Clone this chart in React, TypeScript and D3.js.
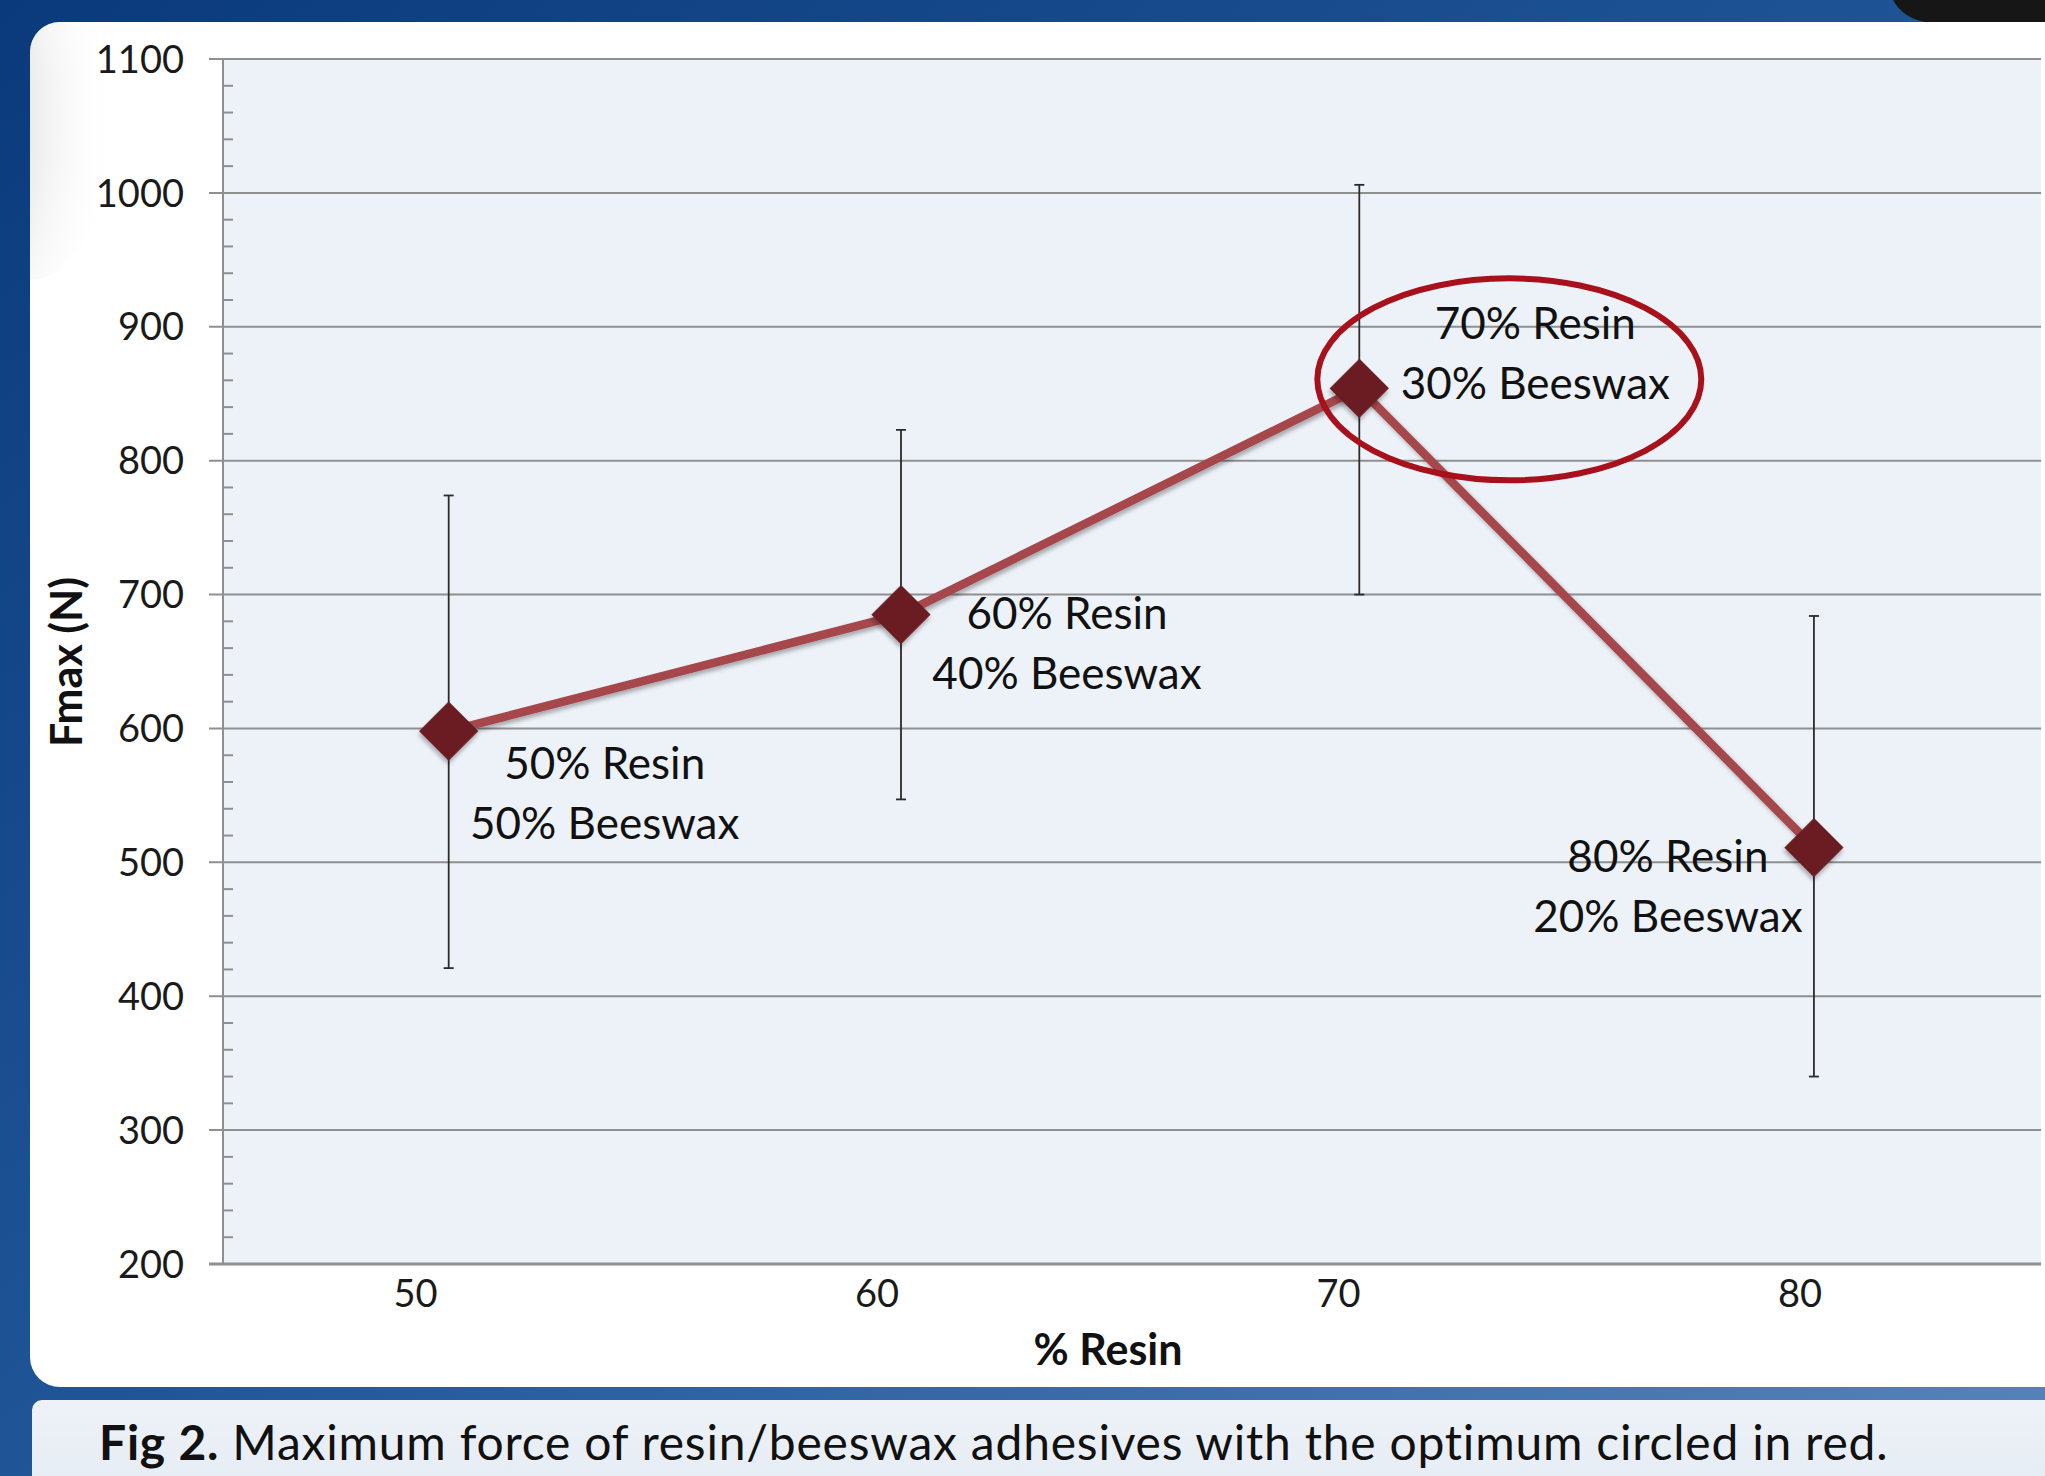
import * as d3 from "d3";
import React from "react";

// % resin of each blend (points sit a little right of the printed ticks)
const resinPercent = [50.72, 60.52, 70.45, 80.3];
// mean maximum force (N) and the ends of the error bars
const fmaxMean = [598, 685, 854, 511];
const fmaxHigh = [774, 823, 1006, 684];
const fmaxLow = [421, 547, 700, 340];
const pointLabels = [
  ["50% Resin", "50% Beeswax"],
  ["60% Resin", "40% Beeswax"],
  ["70% Resin", "30% Beeswax"],
  ["80% Resin", "20% Beeswax"],
];
const optimumIndex = 2;

const xTickValues = [50, 60, 70, 80];
const yTickValues = [200, 300, 400, 500, 600, 700, 800, 900, 1000, 1100];
const yMinorStep = 20;

const yTitle = "Fmax (N)";
const xTitle = "% Resin";
const captionBold = "Fig 2.";
const captionText = " Maximum force of resin/beeswax adhesives with the optimum circled in red.";

const W = 2045;
const H = 1476;
const FONT = "Lato, 'Open Sans', sans-serif";

export default function App() {
  const plot = { left: 223, right: 2041, top: 59, bottom: 1264 };

  const x = d3.scaleLinear().domain([45.83, 85.22]).range([plot.left, plot.right]);
  const y = d3.scaleLinear().domain([200, 1100]).range([plot.bottom, plot.top]);

  const points = resinPercent.map((r, i) => ({
    x: x(r),
    y: y(fmaxMean[i]),
    hi: y(fmaxHigh[i]),
    lo: y(fmaxLow[i]),
    label: pointLabels[i],
  }));

  const line = d3.line<{ x: number; y: number }>().x((d) => d.x).y((d) => d.y);
  const diamond = d3.symbol().type(d3.symbolSquare).size(1750)();

  const minorTicks = d3.range(200, 1100 + 1, yMinorStep).filter((v) => v % 100 !== 0);

  // where each label block sits relative to its point: [dx of centre, dy of first baseline]
  const labelOffsets = [
    [156, 48],
    [166, 14],
    [176, -49],
    [-146, 24],
  ];
  const lineGap = 60;
  const opt = points[optimumIndex];

  return (
    <svg
      width={W}
      height={H}
      style={{ position: "absolute", left: 0, top: 0, display: "block" }}
      fontFamily={FONT}
    >
      <defs>
        <linearGradient id="bg" x1="0" y1="0" x2="1" y2="1">
          <stop offset="0" stopColor="#0a3a7c" />
          <stop offset="0.5" stopColor="#1f5597" />
          <stop offset="1" stopColor="#5784ba" />
        </linearGradient>
        <linearGradient id="capbg" x1="0" y1="0" x2="0" y2="1">
          <stop offset="0" stopColor="#eef2f8" />
          <stop offset="1" stopColor="#e3eaf3" />
        </linearGradient>
        <radialGradient id="cardShade" cx="0" cy="0.5" r="1">
          <stop offset="0" stopColor="#a8a8a8" stopOpacity="0.95" />
          <stop offset="1" stopColor="#ffffff" stopOpacity="0" />
        </radialGradient>
        <filter id="shadow" x="-20%" y="-20%" width="140%" height="140%">
          <feDropShadow dx="2" dy="3" stdDeviation="2" floodColor="#000" floodOpacity="0.3" />
        </filter>
        <clipPath id="cardClip">
          <rect x={30} y={22} width={2100} height={1365} rx={30} />
        </clipPath>
      </defs>

      {/* page background */}
      <rect x={0} y={0} width={W} height={H} fill="url(#bg)" />
      <path d="M1893,0 Q1903,18 1925,22 L2045,22 L2045,0 Z" fill="#161616" />

      {/* white card */}
      <rect x={30} y={22} width={2100} height={1365} rx={30} fill="#fff" />
      <ellipse cx={30} cy={120} rx={85} ry={160} fill="url(#cardShade)" clipPath="url(#cardClip)" />

      {/* caption panel */}
      <rect x={32} y={1400} width={2100} height={120} rx={10} fill="url(#capbg)" />
      <text x={99} y={1460} fontSize={48} letterSpacing={0.78} fill="#111">
        <tspan fontWeight="bold">{captionBold}</tspan>
        <tspan>{captionText}</tspan>
      </text>

      {/* plot area */}
      <rect
        x={plot.left}
        y={plot.top}
        width={plot.right - plot.left}
        height={plot.bottom - plot.top}
        fill="#edf2f9"
      />

      {yTickValues.map((v) => (
        <line
          key={"g" + v}
          x1={plot.left - 14}
          x2={plot.right}
          y1={y(v)}
          y2={y(v)}
          stroke="#8f8f8f"
          strokeWidth={v === 200 ? 3 : 2}
        />
      ))}
      {minorTicks.map((v) => (
        <line key={"m" + v} x1={plot.left} x2={plot.left + 10} y1={y(v)} y2={y(v)} stroke="#8f8f8f" strokeWidth={2} />
      ))}
      <line x1={plot.left} x2={plot.left} y1={plot.top} y2={plot.bottom} stroke="#8f8f8f" strokeWidth={2} />

      {yTickValues.map((v) => (
        <text key={"yl" + v} x={184} y={y(v)} dy="0.36em" textAnchor="end" fontSize={38} fill="#1a1a1a">
          {v}
        </text>
      ))}
      {xTickValues.map((v) => (
        <text key={"xl" + v} x={x(v)} y={1307} textAnchor="middle" fontSize={38} fill="#1a1a1a">
          {v}
        </text>
      ))}

      <text
        transform={`translate(${82},${662}) rotate(-90)`}
        textAnchor="middle"
        fontSize={43}
        fontWeight="bold"
        fill="#111"
      >
        {yTitle}
      </text>
      <text x={1108} y={1365} textAnchor="middle" fontSize={43} fontWeight="bold" fill="#111">
        {xTitle}
      </text>

      {/* error bars */}
      {points.map((p, i) => (
        <g key={"e" + i} stroke="#2b2b2b" strokeWidth={1.8}>
          <line x1={p.x} x2={p.x} y1={p.hi} y2={p.lo} />
          <line x1={p.x - 5} x2={p.x + 5} y1={p.hi} y2={p.hi} />
          <line x1={p.x - 5} x2={p.x + 5} y1={p.lo} y2={p.lo} />
        </g>
      ))}

      {/* series */}
      <path
        d={line(points) || ""}
        fill="none"
        stroke="#a5474b"
        strokeWidth={8.5}
        strokeLinejoin="round"
        filter="url(#shadow)"
      />
      {points.map((p, i) => (
        <path
          key={"d" + i}
          d={diamond || ""}
          transform={`translate(${p.x},${p.y}) rotate(45)`}
          fill="#6b1f20"
          filter="url(#shadow)"
        />
      ))}

      {/* point labels */}
      {points.map((p, i) => (
        <text key={"pl" + i} textAnchor="middle" fontSize={44} fill="#111">
          {p.label.map((s, k) => (
            <tspan key={k} x={p.x + labelOffsets[i][0]} y={p.y + labelOffsets[i][1] + k * lineGap}>
              {s}
            </tspan>
          ))}
        </text>
      ))}

      {/* optimum circled in red */}
      <ellipse cx={opt.x + 150} cy={opt.y - 9} rx={192} ry={101} fill="none" stroke="#a8111b" strokeWidth={6} />
    </svg>
  );
}
